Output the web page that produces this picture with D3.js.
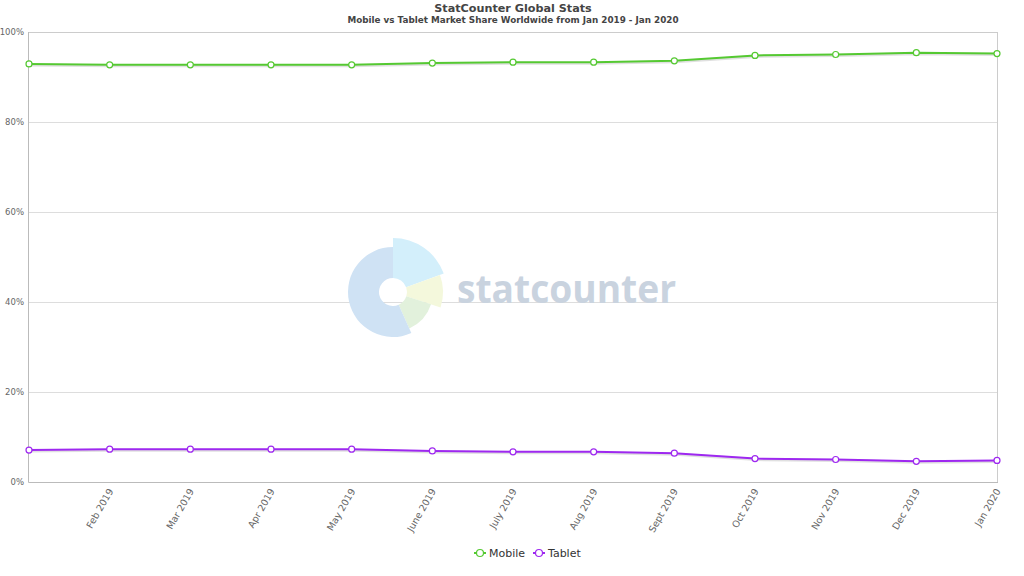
<!DOCTYPE html>
<html><head><meta charset="utf-8">
<script src="https://cdn.jsdelivr.net/npm/d3@7"></script>
<style>body{margin:0;background:#fff}svg{display:block}</style>
</head><body><svg id="c" width="1024" height="576"></svg>
<script>
const months = ["Jan 2019","Feb 2019","Mar 2019","Apr 2019","May 2019","June 2019","July 2019","Aug 2019","Sept 2019","Oct 2019","Nov 2019","Dec 2019","Jan 2020"];
const mobile = [92.9,92.7,92.7,92.7,92.7,93.1,93.3,93.3,93.6,94.8,95.0,95.4,95.2];
const tablet = [7.1,7.3,7.3,7.3,7.3,6.9,6.7,6.7,6.4,5.2,5.0,4.6,4.8];
const yTicks = [0,20,40,60,80,100];
const seriesNames = ["Mobile","Tablet"];
const seriesColors = ["#55c932","#9e28f0"];

const svg = d3.select("#c");
const L=29,R=997,T=32,B=482;
const x = d3.scalePoint().domain(months).range([L,R]);
const y = d3.scaleLinear().domain([0,100]).range([B,T]);

// title
svg.append("text").attr("x",513).attr("y",12).attr("text-anchor","middle")
  .style("font-family","DejaVu Sans").style("font-weight","bold").style("font-size","11.2px").attr("fill","#444")
  .text("StatCounter Global Stats");
svg.append("text").attr("x",513).attr("y",23).attr("text-anchor","middle")
  .style("font-family","DejaVu Sans").style("font-weight","bold").style("font-size","8.8px").attr("fill","#444")
  .text("Mobile vs Tablet Market Share Worldwide from Jan 2019 - Jan 2020");

// grid
svg.append("g").selectAll("line").data(yTicks).join("line")
  .attr("x1",L).attr("x2",R).attr("y1",d=>y(d)+0.5).attr("y2",d=>y(d)+0.5)
  .attr("stroke",d=>d===100?"#ccc":"#ddd").attr("stroke-width",1);
svg.append("line").attr("x1",R+0.5).attr("x2",R+0.5).attr("y1",T).attr("y2",B).attr("stroke","#ccc");

// watermark
const wm = svg.append("g").attr("transform","translate(393,292)");
const deg = Math.PI/180;
const segs = [
  {a0:0,a1:70,r:54,c:"#d3effb"},
  {a0:70,a1:108,r:50,c:"#f4f8dc"},
  {a0:108,a1:156,r:40,c:"#e2f1dc"},
  {a0:156,a1:360,r:45,c:"#cfe2f4"}
];
wm.selectAll("path").data(segs).join("path")
  .attr("d",d=>d3.arc().innerRadius(14).outerRadius(d.r).startAngle(d.a0*deg).endAngle(d.a1*deg)())
  .attr("fill",d=>d.c);
svg.append("text").attr("x",457).attr("y",303)
  .style("font-family","Open Sans").style("font-weight","bold").style("font-size","40px")
  .attr("fill","#c9d3df").attr("textLength",219).attr("lengthAdjust","spacingAndGlyphs").text("statcounter");

// axes
svg.append("line").attr("x1",L-0.5).attr("x2",L-0.5).attr("y1",T).attr("y2",B+0.5).attr("stroke","#bbb");
svg.append("line").attr("x1",L-0.5).attr("x2",R+1).attr("y1",B+0.5).attr("y2",B+0.5).attr("stroke","#bbb");

svg.append("g").selectAll("text").data(yTicks).join("text")
  .attr("x",24).attr("y",d=>y(d)+3).attr("text-anchor","end")
  .style("font-family","DejaVu Sans").style("font-size","8.5px").attr("fill","#666")
  .text(d=>d+"%");

svg.append("g").selectAll("text").data(months.slice(1)).join("text")
  .attr("transform",d=>`translate(${x(d)+4},${B+9}) rotate(-60)`).attr("text-anchor","end")
  .style("font-family","DejaVu Sans").style("font-size","9.5px").attr("fill","#666")
  .text(d=>d);

// series
const data = [mobile,tablet];
const line = d3.line().x((d,i)=>x(months[i])).y(d=>y(d));
data.forEach((vals,k)=>{
  const g = svg.append("g");
  g.append("path").attr("d",line(vals)).attr("fill","none").attr("stroke","#000").attr("stroke-opacity",0.12)
    .attr("stroke-width",3).attr("transform","translate(1,1)");
  g.append("path").attr("d",line(vals)).attr("fill","none").attr("stroke",seriesColors[k]).attr("stroke-width",2);
  g.selectAll("circle").data(vals).join("circle")
    .attr("cx",(d,i)=>x(months[i])).attr("cy",d=>y(d)).attr("r",3)
    .attr("fill","#fff").attr("stroke",seriesColors[k]).attr("stroke-width",1.2);
});

// legend
const lx=[474,533];
seriesNames.forEach((n,k)=>{
  const g = svg.append("g").attr("transform",`translate(${lx[k]},553)`);
  g.append("line").attr("x1",0).attr("x2",12).attr("y1",0).attr("y2",0).attr("stroke",seriesColors[k]).attr("stroke-width",2);
  g.append("circle").attr("cx",6).attr("cy",0).attr("r",3.5).attr("fill","#fff").attr("stroke",seriesColors[k]).attr("stroke-width",1.2);
  g.append("text").attr("x",15).attr("y",4).style("font-family","DejaVu Sans").style("font-size","11px").attr("fill","#333").text(n);
});
</script></body></html>
